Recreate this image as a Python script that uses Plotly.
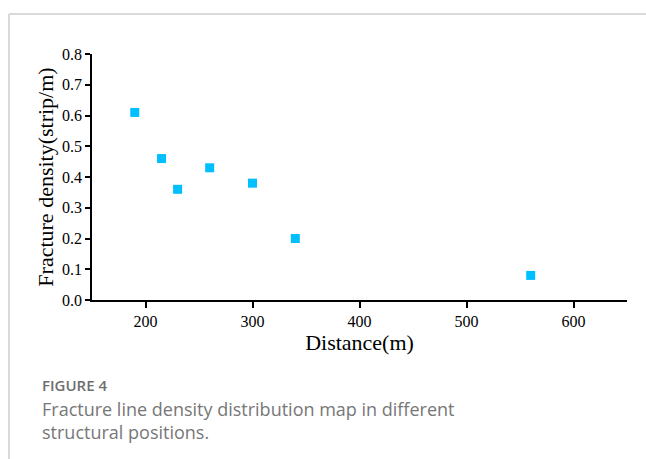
import plotly.graph_objects as go

distance = [190, 215, 230, 260, 300, 340, 560]
density = [0.61, 0.46, 0.36, 0.43, 0.38, 0.20, 0.08]
x_ticks = [200, 300, 400, 500, 600]
y_ticks = [0.0, 0.1, 0.2, 0.3, 0.4, 0.5, 0.6, 0.7, 0.8]

W, H = 646, 459
L, R, T, B = 92, 19, 54, 159
pw, ph = W - L - R, H - T - B

def px(x):
    return (x - L) / pw

def py(y):
    return (H - B - y) / ph

fig = go.Figure()
fig.add_trace(go.Scatter(
    x=distance, y=density, mode="markers",
    marker=dict(symbol="square", size=9, color="#00BFFF", line=dict(width=0)),
    showlegend=False,
))

serif = "Liberation Serif, Times New Roman, serif"
fig.update_layout(
    width=W, height=H,
    margin=dict(l=L, r=R, t=T, b=B),
    paper_bgcolor="white", plot_bgcolor="white",
    xaxis=dict(
        range=[150, 650], tickvals=x_ticks, ticktext=[str(v) for v in x_ticks],
        showgrid=False, zeroline=False, showline=True, linecolor="black", linewidth=1.5,
        ticks="outside", ticklen=6, tickwidth=1.5, tickcolor="black",
        tickfont=dict(family=serif, size=16, color="black"),
        title=dict(text="Distance(m)", font=dict(family=serif, size=22, color="black"), standoff=0),
    ),
    yaxis=dict(
        range=[0, 0.8], tickvals=y_ticks, ticktext=[f"{v:.1f}" for v in y_ticks],
        showgrid=False, zeroline=False, showline=True, linecolor="black", linewidth=1.5,
        ticks="outside", ticklen=5, tickwidth=1.5, tickcolor="black",
        tickfont=dict(family=serif, size=16, color="black"),
        title=dict(text="Fracture density(strip/m)", font=dict(family=serif, size=22, color="black"), standoff=2),
    ),
    font=dict(family=serif),
)

# frame lines of the figure panel
fig.add_shape(type="line", xref="paper", yref="paper",
              x0=px(9), x1=px(646), y0=py(14), y1=py(14),
              line=dict(color="#cccccc", width=1.5))
fig.add_shape(type="line", xref="paper", yref="paper",
              x0=px(9), x1=px(9), y0=py(14), y1=py(459),
              line=dict(color="#cccccc", width=1.5))

cap_font = "Open Sans, Noto Sans, sans-serif"
fig.add_annotation(xref="paper", yref="paper", x=px(40), y=py(385),
                   xanchor="left", yanchor="middle", showarrow=False,
                   text="FIGURE 4", font=dict(family=cap_font, size=15, color="#6e6e6e", weight=600))
fig.add_annotation(xref="paper", yref="paper", x=px(40), y=py(409),
                   xanchor="left", yanchor="middle", showarrow=False,
                   text="Fracture line density distribution map in different",
                   font=dict(family=cap_font, size=18, color="#777777"))
fig.add_annotation(xref="paper", yref="paper", x=px(40), y=py(432),
                   xanchor="left", yanchor="middle", showarrow=False,
                   text="structural positions.",
                   font=dict(family=cap_font, size=18, color="#777777"))

fig.write_html("out.html")
